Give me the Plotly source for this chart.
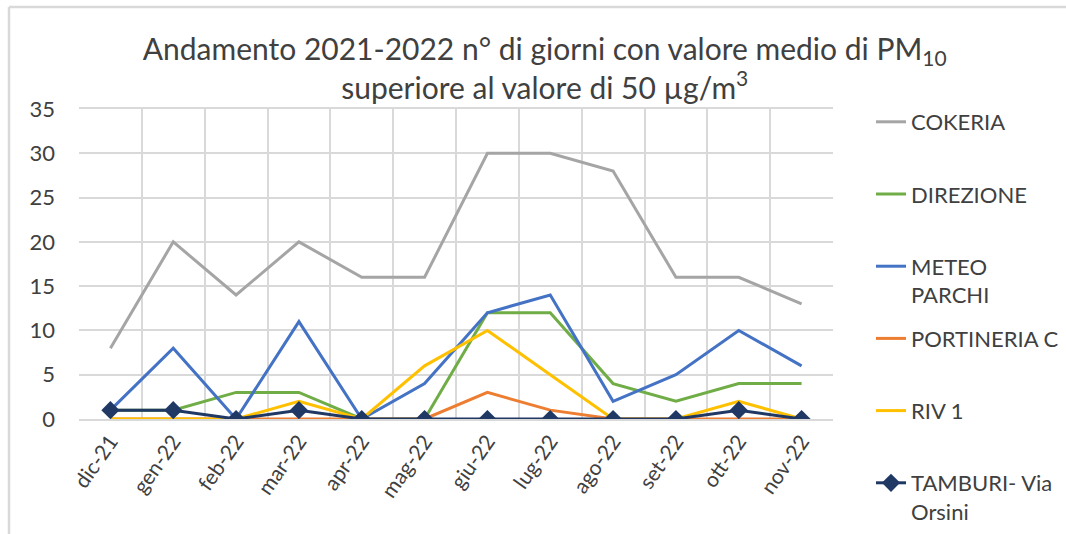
import plotly.graph_objects as go

months = ["dic-21", "gen-22", "feb-22", "mar-22", "apr-22", "mag-22",
          "giu-22", "lug-22", "ago-22", "set-22", "ott-22", "nov-22"]

cokeria = [8, 20, 14, 20, 16, 16, 30, 30, 28, 16, 16, 13]
direzione = [1, 1, 3, 3, 0, 0, 12, 12, 4, 2, 4, 4]
meteo_parchi = [1, 8, 0, 11, 0, 4, 12, 14, 2, 5, 10, 6]
portineria_c = [0, 0, 0, 0, 0, 0, 3, 1, 0, 0, 0, 0]
riv1 = [0, 0, 0, 2, 0, 6, 10, 5, 0, 0, 2, 0]
tamburi = [1, 1, 0, 1, 0, 0, 0, 0, 0, 0, 1, 0]

series = [
    ("COKERIA<br>&nbsp;", cokeria, "#A5A5A5", False),
    ("DIREZIONE<br>&nbsp;", direzione, "#70AD47", False),
    ("METEO<br>PARCHI", meteo_parchi, "#4472C4", False),
    ("PORTINERIA C<br>&nbsp;", portineria_c, "#ED7D31", False),
    ("RIV 1<br>&nbsp;", riv1, "#FFC000", False),
    ("TAMBURI- Via<br>Orsini", tamburi, "#203864", True),
]

FONT = "Lato"
TXT = "#404040"

fig = go.Figure()
for i, (name, vals, color, marker) in enumerate(series):
    fig.add_trace(go.Scatter(
        x=months, y=vals, name=name,
        mode="lines+markers" if marker else "lines",
        line=dict(color=color, width=3),
        marker=dict(symbol="diamond", size=14, color=color) if marker else None,
        legendgroup=f"g{i}",
    ))

fig.update_layout(
    width=1066, height=534,
    paper_bgcolor="white", plot_bgcolor="white",
    margin=dict(l=79, r=233, t=109, b=115, autoexpand=False),
    font=dict(family=FONT, size=21, color=TXT),
    title=dict(
        text="Andamento 2021-2022 n° di giorni con valore medio di PM<sub>10</sub><br>superiore al valore di 50 µg/m<sup>3</sup>",
        x=0.511, xref="container", xanchor="center",
        y=1 - 60 / 534, yref="container", yanchor="top",
        font=dict(family=FONT, size=30, color=TXT),
    ),
    xaxis=dict(
        type="category", range=[-0.5, 11.5], automargin=False,
        tickangle=-55, tickson="boundaries", ticks="",
        showgrid=True, gridcolor="#D9D9D9", gridwidth=1.5,
        showline=True, linecolor="#D9D9D9", linewidth=1.5, mirror=True,
        tickfont=dict(family=FONT, size=21, color=TXT),
    ),
    yaxis=dict(
        range=[0, 35], dtick=5, tick0=0, automargin=False,
        showgrid=True, gridcolor="#D9D9D9", gridwidth=1.5,
        zeroline=False, showline=False,
        ticklabelstandoff=23,
        tickfont=dict(family=FONT, size=22, color=TXT),
    ),
    legend=dict(
        xref="container", yref="container",
        x=871 / 1066, y=1 - 101 / 534, xanchor="left", yanchor="top",
        valign="top", tracegroupgap=12, maxheight=600,
        font=dict(family=FONT, size=22, color=TXT),
        bgcolor="rgba(0,0,0,0)",
    ),
    showlegend=True,
    shapes=[
        dict(type="line", xref="paper", yref="paper",
             x0=(9 - 79) / 754, x1=(1100 - 79) / 754,
             y0=(419 - 7) / 310, y1=(419 - 7) / 310,
             line=dict(color="#D9D9D9", width=2.5), layer="above"),
        dict(type="line", xref="paper", yref="paper",
             x0=(9 - 79) / 754, x1=(9 - 79) / 754,
             y0=-(560 - 419) / 310, y1=(419 - 7) / 310,
             line=dict(color="#D9D9D9", width=2.5), layer="above"),
    ],
)

fig.write_html(
    "out.html",
    config={"displayModeBar": False},
    post_script="document.body.style.margin='0';document.body.style.overflow='hidden';",
)
